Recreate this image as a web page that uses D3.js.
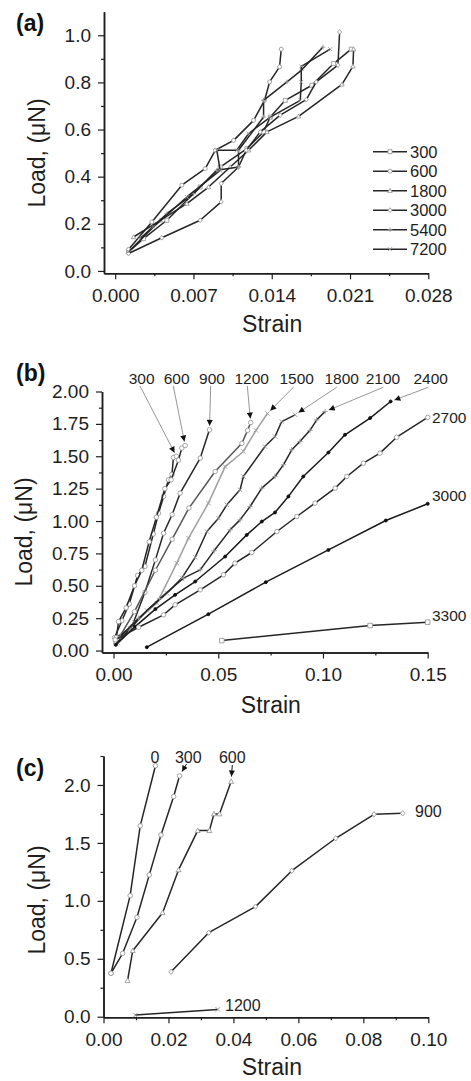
<!DOCTYPE html>
<html><head><meta charset="utf-8">
<script src="https://cdn.jsdelivr.net/npm/d3@7"></script>
<style>
html,body{margin:0;padding:0;background:#fff;}
svg{display:block;font-family:"Liberation Sans",Arial,Helvetica,sans-serif;}
</style></head><body>
<svg id="chart" width="471" height="1081"></svg>
<script>
// ---------- DATA ----------
// Panel (a): strain vs load, curing times
const aNames = ["300","600","1800","3000","5400","7200"];
const aSymbols = ["square","circle","triangle","diamond","plus","cross"];
const aS300 = [[0.00119,0.081],[0.00253,0.137],[0.00462,0.215],[0.00760,0.356],[0.00939,0.441],[0.01178,0.519],[0.01327,0.590],[0.01387,0.653],[0.01521,0.724],[0.01759,0.788],[0.01953,0.880],[0.02111,0.941]];
const aS600 = [[0.00119,0.091],[0.00328,0.208],[0.00596,0.364],[0.00805,0.434],[0.00895,0.512],[0.01059,0.554],[0.01238,0.639],[0.01336,0.724],[0.01381,0.802],[0.01470,0.866],[0.01485,0.941]];
const aS1800 = [[0.00164,0.144],[0.00403,0.215],[0.00641,0.286],[0.00835,0.356],[0.01029,0.441],[0.01193,0.512],[0.01357,0.590],[0.01640,0.656],[0.02028,0.792],[0.02126,0.868],[0.02132,0.941]];
const aS3000 = [[0.00119,0.074],[0.00417,0.141],[0.00760,0.215],[0.00948,0.293],[0.00948,0.371],[0.01103,0.441],[0.01172,0.512],[0.01297,0.590],[0.01476,0.661],[0.01709,0.727],[0.01798,0.802],[0.01992,0.873],[0.02007,1.014]];
const aS5400 = [[0.00224,0.137],[0.00462,0.243],[0.00701,0.328],[0.00909,0.427],[0.01103,0.441],[0.01103,0.512],[0.01327,0.653],[0.01327,0.724],[0.01536,0.802],[0.01664,0.851],[0.01858,0.950]];
const aS7200 = [[0.00119,0.081],[0.00343,0.187],[0.00641,0.314],[0.00939,0.427],[0.00909,0.512],[0.01088,0.512],[0.01193,0.583],[0.01387,0.653],[0.01655,0.724],[0.01664,0.802],[0.01664,0.868],[0.01923,0.941]];
const aSeries = [aS300,aS600,aS1800,aS3000,aS5400,aS7200];
const aXTicks = [0,0.007,0.014,0.021,0.028];
const aYTicks = [0,0.2,0.4,0.6,0.8,1.0];

// Panel (b)
const bNames = ["300","600","900","1200","1500","1800","2100","2400","2700","3000","3300"];
const bS300 = [[0.0005,0.10],[0.0040,0.23],[0.0075,0.36],[0.0115,0.58],[0.0150,0.65],[0.0190,0.90],[0.0215,1.06],[0.0239,1.19],[0.0262,1.318],[0.0279,1.36],[0.0286,1.49],[0.0300,1.50]];
const bS600 = [[0.0010,0.06],[0.0024,0.224],[0.0060,0.33],[0.0100,0.50],[0.0135,0.62],[0.0170,0.84],[0.0205,1.03],[0.0245,1.25],[0.0275,1.318],[0.0310,1.47],[0.0326,1.563],[0.0342,1.583]];
const bS900 = [[0.0013,0.10],[0.0088,0.185],[0.0150,0.45],[0.0200,0.70],[0.0239,0.906],[0.0280,1.05],[0.0318,1.215],[0.0414,1.486],[0.0458,1.704]];
const bS1200 = [[0.0020,0.08],[0.0100,0.30],[0.0200,0.62],[0.0280,0.86],[0.0360,1.10],[0.0485,1.382],[0.0613,1.60],[0.0640,1.70],[0.0655,1.76]];
const bS1500 = [[0.0020,0.06],[0.0100,0.22],[0.0207,0.366],[0.0302,0.675],[0.0358,0.868],[0.0453,1.138],[0.0533,1.42],[0.0620,1.537],[0.0680,1.70],[0.0735,1.83]];
const bS1800 = [[0.0010,0.05],[0.0080,0.17],[0.0160,0.31],[0.0255,0.443],[0.0326,0.559],[0.0390,0.72],[0.0446,0.919],[0.0501,1.022],[0.0541,1.125],[0.0604,1.241],[0.0620,1.344],[0.0723,1.575],[0.0771,1.652],[0.0803,1.768],[0.0867,1.82]];
const bS2100 = [[0.0032,0.108],[0.0120,0.25],[0.0220,0.40],[0.0334,0.559],[0.0414,0.623],[0.0480,0.77],[0.0557,0.932],[0.0604,1.009],[0.0652,1.112],[0.0708,1.254],[0.0771,1.344],[0.0811,1.434],[0.0851,1.55],[0.0890,1.614],[0.0938,1.70],[0.0970,1.781],[0.1010,1.845]];
const bS2400 = [[0.0011,0.044],[0.0103,0.185],[0.0200,0.32],[0.0294,0.43],[0.0390,0.533],[0.0533,0.726],[0.0636,0.893],[0.0708,0.996],[0.0771,1.066],[0.0835,1.19],[0.0906,1.344],[0.1026,1.529],[0.1105,1.666],[0.1225,1.795],[0.1323,1.923]];
const bS2700 = [[0.0008,0.083],[0.0120,0.18],[0.0239,0.276],[0.0294,0.353],[0.0414,0.469],[0.0525,0.585],[0.0580,0.675],[0.0660,0.757],[0.0780,0.919],[0.0875,1.035],[0.0962,1.138],[0.1058,1.254],[0.1114,1.344],[0.1193,1.447],[0.1272,1.524],[0.1352,1.647],[0.1500,1.80]];
const bS3000 = [[0.0159,0.026],[0.0453,0.281],[0.0727,0.528],[0.1026,0.777],[0.1300,1.004],[0.1500,1.133]];
const bS3300 = [[0.0517,0.077],[0.1225,0.193],[0.1500,0.219]];
const bSeries = [bS300,bS600,bS900,bS1200,bS1500,bS1800,bS2100,bS2400,bS2700,bS3000,bS3300];
const bSymbols = ["circle","circle","circle","circle","cross","cross","plus","dot","circle","dot","square"];
const bXTicks = [0,0.05,0.10,0.15];
const bYTicks = [0,0.25,0.5,0.75,1.0,1.25,1.5,1.75,2.0];

// Panel (c)
const cNames = ["0","300","600","900","1200"];
const cS0 = [[0.0023,0.375],[0.0082,1.045],[0.0113,1.647],[0.0160,2.166]];
const cS300 = [[0.0023,0.375],[0.0059,0.547],[0.0103,0.858],[0.0141,1.224],[0.0177,1.569],[0.0216,1.900],[0.0234,2.078]];
const cS600 = [[0.0074,0.311],[0.0090,0.570],[0.0182,0.898],[0.0231,1.267],[0.0290,1.606],[0.0326,1.606],[0.0340,1.750],[0.0357,1.750],[0.0393,2.030]];
const cS900 = [[0.0208,0.388],[0.0324,0.725],[0.0468,0.950],[0.0580,1.260],[0.0715,1.540],[0.0833,1.747],[0.0921,1.755]];
const cS1200 = [[0.0098,0.014],[0.0352,0.063]];
const cSeries = [cS0,cS300,cS600,cS900,cS1200];
const cSymbols = ["circle","circle","triangle","diamond","cross"];
const cXTicks = [0,0.02,0.04,0.06,0.08,0.10];
const cYTicks = [0,0.5,1.0,1.5,2.0];

// ---------- DRAWING ----------
const svg = d3.select("#chart");
const INK = "#1e1e1e";
const LINE = "#262626";
const MARK = "#9a9a9a";
const FONT_TICK = 19, FONT_TITLE = 23;

const defs = svg.append("defs");
defs.append("marker").attr("id","arrow").attr("viewBox","0 0 10 10")
  .attr("refX",10).attr("refY",5).attr("markerWidth",7).attr("markerHeight",6)
  .attr("markerUnits","userSpaceOnUse").attr("orient","auto")
  .append("path").attr("d","M0,0L10,5L0,10Z").attr("fill","#111");

function markerPath(type, s){
  const h = s/2;
  switch(type){
    case "square": return `M${-h},${-h}H${h}V${h}H${-h}Z`;
    case "triangle": return `M0,${-h*1.15}L${h*1.1},${h*0.85}L${-h*1.1},${h*0.85}Z`;
    case "diamond": return `M0,${-h*1.2}L${h},0L0,${h*1.2}L${-h},0Z`;
    case "plus": return `M${-h*1.2},0H${h*1.2}M0,${-h*1.2}V${h*1.2}`;
    case "cross": return `M${-h},${-h}L${h},${h}M${-h},${h}L${h},${-h}`;
    case "dot": { const r=h*0.75; return `M${-r},0A${r},${r} 0 1,0 ${r},0A${r},${r} 0 1,0 ${-r},0Z`; }
    default: return `M${-h},0A${h},${h} 0 1,0 ${h},0A${h},${h} 0 1,0 ${-h},0Z`;
  }
}
function drawMarker(g, type, px, py, s, color){
  const open = (type==="plus"||type==="cross");
  g.append("path").attr("transform",`translate(${px},${py})`)
    .attr("d", markerPath(type,s))
    .attr("fill", open ? "none" : (type==="dot" ? "#111" : "#fff"))
    .attr("stroke", type==="dot" ? "#111" : color)
    .attr("stroke-width", 0.9);
}

function makeAxes(cfg){
  const g = svg.append("g");
  const x = d3.scaleLinear().domain(cfg.xDomain).range([cfg.left, cfg.right]);
  const y = d3.scaleLinear().domain(cfg.yDomain).range([cfg.bottom, cfg.top]);
  // minor ticks
  g.append("g").attr("transform",`translate(0,${cfg.bottom})`)
    .call(d3.axisBottom(x).tickValues(cfg.xMinor).tickSize(3).tickFormat("").tickSizeOuter(0));
  g.append("g").attr("transform",`translate(${cfg.left},0)`)
    .call(d3.axisLeft(y).tickValues(cfg.yMinor).tickSize(3).tickFormat("").tickSizeOuter(0));
  // major
  g.append("g").attr("transform",`translate(0,${cfg.bottom})`)
    .call(d3.axisBottom(x).tickValues(cfg.xTicks).tickFormat(d3.format(cfg.xFmt)).tickSize(6).tickPadding(9).tickSizeOuter(0));
  g.append("g").attr("transform",`translate(${cfg.left},0)`)
    .call(d3.axisLeft(y).tickValues(cfg.yTicks).tickFormat(d3.format(cfg.yFmt)).tickSize(6).tickPadding(7).tickSizeOuter(0));
  g.selectAll(".domain").attr("stroke",INK).attr("stroke-width",1.5);
  g.selectAll(".tick line").attr("stroke",INK).attr("stroke-width",1.2);
  g.selectAll(".tick text").attr("fill",INK).style("font-size",FONT_TICK+"px")
    .style("font-family",'"Liberation Sans",Arial,sans-serif');
  // titles
  g.append("text").attr("x",(cfg.left+cfg.right)/2+6).attr("y",cfg.xTitleY)
    .attr("text-anchor","middle").attr("fill",INK).style("font-size",FONT_TITLE+"px").text("Strain");
  g.append("text").attr("transform",`translate(${cfg.yTitleX},${cfg.yTitleY}) rotate(-90)`)
    .attr("dy","0.35em").attr("text-anchor","middle").attr("fill",INK)
    .style("font-size",FONT_TITLE+"px").text("Load, (\u03bcN)");
  g.append("text").attr("x",cfg.tagX).attr("y",cfg.tagY).attr("fill","#111")
    .style("font-size","23px").style("font-weight","bold").text(cfg.tag);
  return {g,x,y};
}

function drawSeries(P, data, sym, lineColor, markColor, msize){
  const line = d3.line().x(d=>P.x(d[0])).y(d=>P.y(d[1]));
  P.g.append("path").attr("d", line(data)).attr("fill","none")
    .attr("stroke", lineColor).attr("stroke-width",1.5).attr("stroke-linejoin","round");
  const mg = P.g.append("g");
  data.forEach(d => drawMarker(mg, sym, P.x(d[0]), P.y(d[1]), msize, markColor));
}

// ----- Panel (a) -----
const A = makeAxes({left:104,right:428.3,top:11.7,bottom:273.3,
  xDomain:[-0.001,0.028], yDomain:[-0.01,1.1],
  xTicks:aXTicks, yTicks:aYTicks, xFmt:".3f", yFmt:".1f",
  xMinor:[0.0035,0.0105,0.0175,0.0245], yMinor:[0.1,0.3,0.5,0.7,0.9],
  xTitleY:332, yTitleX:36.5, yTitleY:153, tag:"(a)", tagX:16, tagY:31});
aSeries.forEach((s,i)=>drawSeries(A, s, aSymbols[i], LINE, MARK, 4));
// legend
const legY0 = 151.7, legDy = 19.5;
aNames.forEach((n,i)=>{
  const yy = legY0 + i*legDy;
  A.g.append("line").attr("x1",373).attr("x2",407).attr("y1",yy).attr("y2",yy)
    .attr("stroke",LINE).attr("stroke-width",1.5);
  drawMarker(A.g, aSymbols[i], 390, yy, 4, MARK);
  A.g.append("text").attr("x",410).attr("y",yy).attr("dy","0.36em").attr("fill",INK)
    .style("font-size","16.5px").text(n);
});

// ----- Panel (b) -----
const B = makeAxes({left:102,right:427.7,top:391.5,bottom:652.5,
  xDomain:[-0.0055,0.15], yDomain:[-0.015,2.0],
  xTicks:bXTicks, yTicks:bYTicks, xFmt:".2f", yFmt:".2f",
  xMinor:[0.025,0.075,0.125], yMinor:[0.125,0.375,0.625,0.875,1.125,1.375,1.625,1.875],
  xTitleY:713, yTitleX:23.5, yTitleY:532, tag:"(b)", tagX:16, tagY:381});
const bLineColors = [LINE,LINE,LINE,"#555","#a0a0a0",LINE,LINE,"#1a1a1a",LINE,"#1a1a1a",LINE];
bSeries.forEach((s,i)=>drawSeries(B, s, bSymbols[i], bLineColors[i], MARK, bSymbols[i]==="dot"?4:4.5));
// top labels with leader arrows
const bTopLabelX = [141.7,176.7,212,251.7,296.7,341.7,383,430.7];
const bArrowStart = [[140,386],[173.3,386],[210.7,386],[247.3,386],[293.3,387.3],[336.7,387.3],[383.3,387.3],[428.3,387.3]];
bTopLabelX.forEach((lx,i)=>{
  B.g.append("text").attr("x",lx).attr("y",378).attr("dy","0.36em").attr("text-anchor","middle")
    .attr("fill",INK).style("font-size","15.5px").text(bNames[i]);
  const last = bSeries[i][bSeries[i].length-1];
  const px = B.x(last[0]), py = B.y(last[1]);
  const [sx,sy] = bArrowStart[i];
  const dx = sx-px, dy = sy-py, L = Math.hypot(dx,dy);
  const tx = px + dx/L*4, ty = py + dy/L*4;
  B.g.append("line").attr("x1",sx).attr("y1",sy).attr("x2",tx).attr("y2",ty)
    .attr("stroke","#8a8a8a").attr("stroke-width",0.9).attr("marker-end","url(#arrow)");
});
// right labels
[[8,0],[9,-8],[10,-7]].forEach(([i,off])=>{
  const last = bSeries[i][bSeries[i].length-1];
  B.g.append("text").attr("x",432).attr("y",B.y(last[1])+off).attr("dy","0.36em")
    .attr("fill",INK).style("font-size","15.5px").text(bNames[i]);
});

// ----- Panel (c) -----
const C = makeAxes({left:103.5,right:428.3,top:756,bottom:1017.3,
  xDomain:[0,0.1], yDomain:[-0.005,2.25],
  xTicks:cXTicks, yTicks:cYTicks, xFmt:".2f", yFmt:".1f",
  xMinor:[0.01,0.03,0.05,0.07,0.09], yMinor:[0.25,0.75,1.25,1.75,2.25],
  xTitleY:1075, yTitleX:36.5, yTitleY:900, tag:"(c)", tagX:16, tagY:776});
cSeries.forEach((s,i)=>drawSeries(C, s, cSymbols[i], LINE, MARK, 4.5));
// labels
const cLabelPos = [[155,757,"middle"],[188.3,757,"middle"],[232.3,757,"middle"],[415,811,"start"],[225,1005,"start"]];
cLabelPos.forEach(([lx,ly,anc],i)=>{
  C.g.append("text").attr("x",lx).attr("y",ly).attr("dy","0.36em").attr("text-anchor",anc)
    .attr("fill",INK).style("font-size","16px").text(cNames[i]);
});
// short arrows for 300 and 600
[[1,[186.5,764]],[2,[232.3,765]]].forEach(([i,[sx,sy]])=>{
  const last = cSeries[i][cSeries[i].length-1];
  const px = C.x(last[0]), py = C.y(last[1]);
  const dx = sx-px, dy = sy-py, L = Math.hypot(dx,dy);
  C.g.append("line").attr("x1",sx).attr("y1",sy).attr("x2",px+dx/L*5).attr("y2",py+dy/L*5)
    .attr("stroke","#111").attr("stroke-width",1).attr("marker-end","url(#arrow)");
});
</script>
</body></html>
